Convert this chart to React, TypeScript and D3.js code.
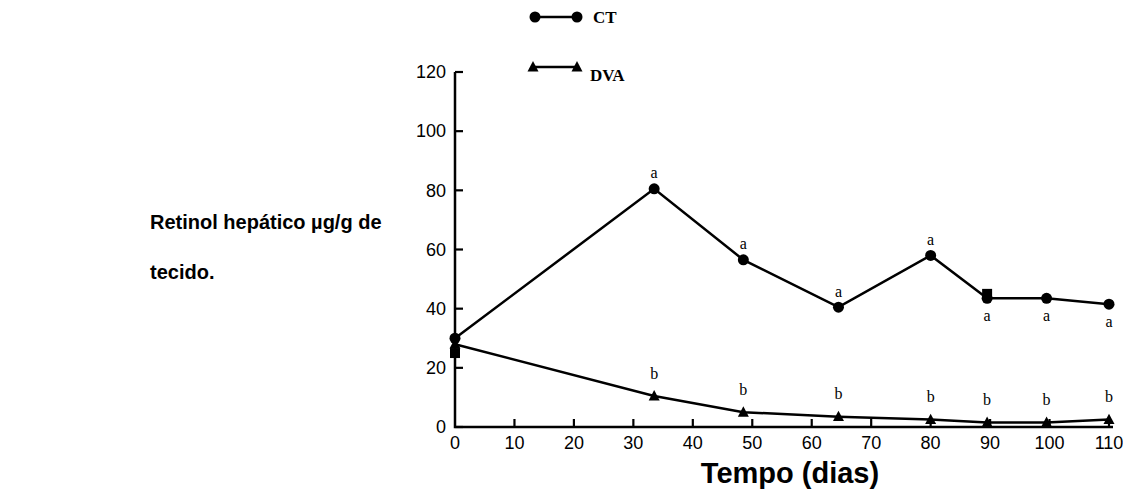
import React from "react";
import * as d3 from "d3";

const days = [0, 33.5, 48.5, 64.5, 80, 89.5, 99.5, 110];
const ctValues = [30, 80.5, 56.5, 40.5, 58, 43.5, 43.5, 41.5];
const dvaValues = [28, 10.5, 5, 3.5, 2.5, 1.5, 1.5, 2.5];
const ctLetters = ["", "a", "a", "a", "a", "a", "a", "a"];
const ctLetterBelow = [false, false, false, false, false, true, true, true];
const dvaLetters = ["", "b", "b", "b", "b", "b", "b", "b"];
const squareDays = [0, 89.5];
const squareValues = [25, 45];
const xTicks = [0, 10, 20, 30, 40, 50, 60, 70, 80, 90, 100, 110];
const yTicks = [0, 20, 40, 60, 80, 100, 120];
const seriesNames = ["CT", "DVA"];

const W = 1123;
const H = 497;
const x = d3.scaleLinear().domain([0, 110]).range([455, 1109]);
const y = d3.scaleLinear().domain([0, 120]).range([427, 72]);

const tickFont = "'Liberation Sans', Arial, sans-serif";
const serif = "'Liberation Serif', 'Times New Roman', serif";

function tri(cx: number, cy: number, s: number) {
  const h = s * 0.9;
  return `M${cx},${cy - h * 0.6}L${cx + s / 2},${cy + h * 0.45}L${cx - s / 2},${cy + h * 0.45}Z`;
}

export default function App() {
  const line = d3
    .line<number>()
    .x((_, i) => x(days[i]))
    .y((d) => y(d));
  return (
    <div style={{ position: "absolute", left: 0, top: 0 }}>
      <svg width={W} height={H} style={{ display: "block", background: "#fff" }}>
        {/* axes */}
        <path d={`M${x(0)},${y(120)}V${y(0)}H${x(110) + 4}`} fill="none" stroke="#000" strokeWidth={2.5} />
        {yTicks.map((t) => (
          <g key={"y" + t}>
            <line x1={x(0)} x2={x(0) + 8} y1={y(t)} y2={y(t)} stroke="#000" strokeWidth={2.2} />
            <text x={x(0) - 9} y={y(t)} dy="0.35em" textAnchor="end" fontFamily={tickFont} fontSize={18} fill="#000">
              {t}
            </text>
          </g>
        ))}
        {xTicks.map((t) => (
          <g key={"x" + t}>
            {t > 0 && <line x1={x(t)} x2={x(t)} y1={y(0)} y2={y(0) - 8} stroke="#000" strokeWidth={2.2} />}
            <text x={x(t)} y={y(0) + 16} dy="0.35em" textAnchor="middle" fontFamily={tickFont} fontSize={18} fill="#000">
              {t}
            </text>
          </g>
        ))}
        {/* lines */}
        <path d={line(ctValues) || ""} fill="none" stroke="#000" strokeWidth={2.5} />
        <path d={line(dvaValues) || ""} fill="none" stroke="#000" strokeWidth={2.5} />
        {ctValues.map((v, i) => (
          <circle key={"c" + i} cx={x(days[i])} cy={y(v)} r={5.5} fill="#000" />
        ))}
        {squareValues.map((v, i) => (
          <rect key={"s" + i} x={x(squareDays[i]) - 5} y={y(v) - 5} width={10} height={10} fill="#000" />
        ))}
        {dvaValues.map((v, i) => (
          <path key={"t" + i} d={tri(x(days[i]), y(v), 11)} fill="#000" />
        ))}
        {ctLetters.map((l, i) =>
          l ? (
            <text
              key={"cl" + i}
              x={x(days[i])}
              y={y(ctValues[i]) + (ctLetterBelow[i] ? 17 : -16)}
              dy="0.35em"
              textAnchor="middle"
              fontFamily={serif}
              fontSize={16}
              fill="#000"
            >
              {l}
            </text>
          ) : null
        )}
        {dvaLetters.map((l, i) =>
          l ? (
            <text
              key={"dl" + i}
              x={x(days[i])}
              y={y(dvaValues[i]) - 23}
              dy="0.35em"
              textAnchor="middle"
              fontFamily={serif}
              fontSize={16}
              fill="#000"
            >
              {l}
            </text>
          ) : null
        )}
        {/* legend */}
        <g>
          <line x1={535} x2={577} y1={17} y2={17} stroke="#000" strokeWidth={2.5} />
          <circle cx={535} cy={17} r={5.5} fill="#000" />
          <circle cx={577} cy={17} r={5.5} fill="#000" />
          <text x={593} y={17} dy="0.35em" fontFamily={serif} fontWeight="bold" fontSize={17} fill="#000">
            {seriesNames[0]}
          </text>
          <line x1={533} x2={577} y1={67} y2={67} stroke="#000" strokeWidth={2.5} />
          <path d={tri(533, 67, 11)} fill="#000" />
          <path d={tri(577, 67, 11)} fill="#000" />
          <text x={590} y={75} dy="0.35em" fontFamily={serif} fontWeight="bold" fontSize={17} fill="#000">
            {seriesNames[1]}
          </text>
        </g>
        {/* titles */}
        <text x={790} y={483} textAnchor="middle" fontFamily="Arial, 'Liberation Sans', sans-serif" fontWeight="bold" fontSize={29} fill="#000">
          Tempo (dias)
        </text>
        <text fontFamily="Arial, 'Liberation Sans', sans-serif" fontWeight="bold" fontSize={20} fill="#000">
          <tspan x={150} y={229}>Retinol hepático µg/g de</tspan>
          <tspan x={150} y={279}>tecido.</tspan>
        </text>
      </svg>
    </div>
  );
}
